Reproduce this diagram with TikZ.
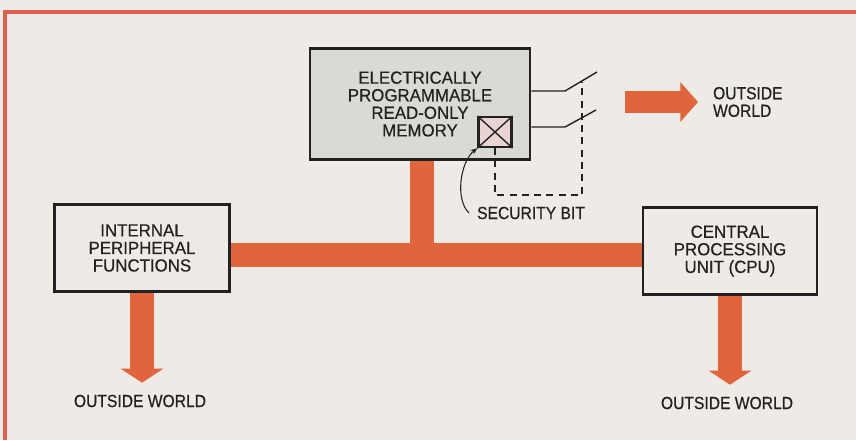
\documentclass[tikz,border=0pt]{standalone}
\usepackage{fontspec}
\setmainfont{Liberation Sans}
\newfontfamily\diagfont{Liberation Sans}[FakeStretch=0.96, FakeBold=0.5]
\newfontfamily\narrowfont{Liberation Sans}[FakeStretch=0.89, FakeBold=0.5]
\usepackage{tikz}
\usetikzlibrary{arrows.meta, positioning, calc}
\definecolor{paper}{HTML}{EEEAE5}
\definecolor{busorange}{HTML}{E0643C}
\definecolor{framered}{HTML}{E06050}
\definecolor{romgray}{HTML}{D9D9D5}
\definecolor{bitpink}{HTML}{EAD3D3}
\definecolor{ink}{HTML}{222222}
\tikzset{
  block/.style={
    rectangle,
    draw=ink,
    line width=1.5pt,
    fill=paper,
    align=center,
    text=ink,
    font=\diagfont\fontsize{10}{10}\selectfont,
    inner sep=2pt
  },
  caption/.style={
    align=center,
    text=ink,
    font=\narrowfont\fontsize{10}{10}\selectfont,
    inner sep=1pt
  },
  bus/.style={
    line width=13.5pt,
    busorange
  },
  bigarrow/.style={
    line width=14pt,
    busorange,
    -{Triangle[width=24pt,length=8pt]}
  },
  sidearrow/.style={
    line width=12pt,
    busorange,
    -{Triangle[width=22pt,length=10pt]}
  },
  wire/.style={
    ink,
    line width=0.8pt
  },
  pointer/.style={
    ink,
    line width=0.6pt,
    -{Stealth[length=4pt,width=3pt]}
  }
}

\begin{document}
\begin{tikzpicture}[x=0.02cm, y=-0.02cm]

  % --- background and frame ---
  \fill[paper] (0,0) rectangle (856,440);
  \useasboundingbox (0,0) rectangle (856,440);
  \draw[framered, line width=1.8pt] (5,440) -- (5,12) -- (856,12);

  % --- blocks ---
  \node (eprom) [block, fill=romgray, minimum width=4.4cm, minimum height=2.22cm] at (420,104)
    {ELECTRICALLY\\PROGRAMMABLE\\READ-ONLY\\MEMORY};
  \node (ipf) [block, minimum width=3.5cm, minimum height=1.74cm] at (142,248)
    {INTERNAL\\PERIPHERAL\\FUNCTIONS};
  \node (cpu) [block, minimum width=3.48cm, minimum height=1.74cm] at (730,251)
    {CENTRAL\\PROCESSING\\UNIT (CPU)};

  % security bit
  \node (sbit) [rectangle, draw=ink, line width=1.2pt, fill=bitpink, minimum width=0.66cm, minimum height=0.6cm, inner sep=0pt] at (495,132) {};
  \draw[wire] (sbit.north west) -- (sbit.south east);
  \draw[wire] (sbit.south west) -- (sbit.north east);

  % --- bus ---
  \coordinate (tee) at (422,255);
  \draw[bus] (ipf.east |- tee) -- (cpu.west |- tee);
  \draw[bus] (eprom.south -| tee) -- (tee);

  % --- outside world ---
  \node (owl) [caption] at (140,401) {OUTSIDE WORLD};
  \node (owr) [caption] at (727,403) {OUTSIDE WORLD};
  \node (owt) [caption, align=left, anchor=west] at (711,102) {OUTSIDE\\WORLD};
  \draw[bigarrow] (ipf.south) -- ([yshift=0.2cm]owl.north -| ipf.south);
  \draw[bigarrow] (cpu.south) -- ([yshift=0.2cm]owr.north -| cpu.south);
  \coordinate (tail) at (625,102);
  \draw[sidearrow] (tail) -- ([xshift=-0.26cm]owt.west);

  % --- switches and security bit link ---
  \coordinate (sw1) at (565,91);
  \coordinate (sw2) at (565,127);
  \draw[wire] (eprom.east |- sw1) -- (sw1) -- (597,72);
  \draw[wire] (eprom.east |- sw2) -- (sw2) -- (596,110);
  \coordinate (dcorner) at (582,195);
  \coordinate (dtop) at (582,82);
  \draw[wire, dashed, dash pattern=on 4pt off 3pt] (sbit.south) |- (dcorner) -- (dtop);

  \node (seclabel) [caption] at (531,213) {SECURITY BIT};
  \draw[pointer] ([xshift=-0.12cm]seclabel.west) .. controls (455,200) and (460,162) .. (sbit.south west);

\end{tikzpicture}
\end{document}
